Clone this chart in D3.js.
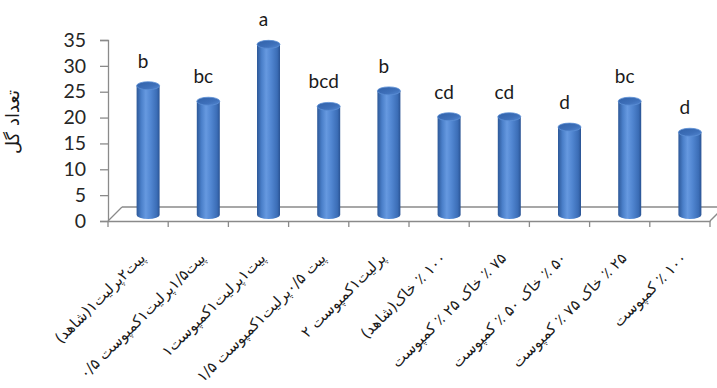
<!DOCTYPE html>
<html>
<head>
<meta charset="utf-8">
<script src="https://cdn.jsdelivr.net/npm/d3@7/dist/d3.min.js"></script>
<style>
  html, body { margin: 0; padding: 0; background: #fff; }
  svg { display: block; }
</style>
</head>
<body>
<svg id="chart" width="717" height="388"></svg>
<script>
// Treatments (category labels)
const categories = [
  "پیت۲پرلیت۱(شاهد)",
  "پیت۱/۵پرلیت۱کمپوست ۰/۵",
  "پیت۱پرلیت۱کمپوست۱",
  "پیت ۰/۵پرلیت۱کمپوست ۱/۵",
  "پرلیت۱کمپوست ۲",
  "۱۰۰ ٪ خاک(شاهد)",
  "۷۵ ٪ خاک ۲۵ ٪ کمپوست",
  "۵۰ ٪ خاک ۵۰ ٪ کمپوست",
  "۲۵ ٪ خاک ۷۵ ٪ کمپوست",
  "۱۰۰ ٪ کمپوست"
];
// Number of flowers per treatment
const flowerCounts = [25, 22, 33, 21, 24, 19, 19, 17, 22, 16];
// Mean-comparison letters
const groupLetters = ["b", "bc", "a", "bcd", "b", "cd", "cd", "d", "bc", "d"];
// Value axis ticks
const yTicks = [0, 5, 10, 15, 20, 25, 30, 35];
const yTitle = "تعداد گل";

const svg = d3.select("#chart");

// Plot geometry (front plane of the 3D box)
const x0 = 108, x1 = 710, yBase = 221, yTop = 40;
const depthX = 14, depthY = -14;      // offset to the back wall
const barDX = 10, barDY = -6;         // bars sit mid-depth
const barW = 23, capRy = 4;

const x = d3.scaleBand().domain(d3.range(categories.length)).range([x0, x1]).padding(0);
const y = d3.scaleLinear().domain([0, 35]).range([yBase, yTop]);

// Gradients for the cylinders
const defs = svg.append("defs");
const body = defs.append("linearGradient").attr("id", "cylBody")
  .attr("x1", "0%").attr("x2", "100%").attr("y1", "0%").attr("y2", "0%");
[["0%", "#2d5898"], ["20%", "#4a7fc9"], ["40%", "#6699e0"], ["62%", "#5186d1"], ["88%", "#3b6db6"], ["100%", "#2a5393"]]
  .forEach(([o, c]) => body.append("stop").attr("offset", o).attr("stop-color", c));
const cap = defs.append("linearGradient").attr("id", "cylCap")
  .attr("x1", "0%").attr("x2", "100%").attr("y1", "0%").attr("y2", "100%");
[["0%", "#3161a8"], ["60%", "#3e70ba"], ["100%", "#5387d2"]]
  .forEach(([o, c]) => cap.append("stop").attr("offset", o).attr("stop-color", c));

const gridColor = "#8a8a8a";

// Floor of the 3D box
const floor = svg.append("g").attr("stroke", gridColor).attr("stroke-width", 1.3).attr("fill", "none");
floor.append("line").attr("x1", x0).attr("y1", yBase).attr("x2", x0 + depthX).attr("y2", yBase + depthY);
floor.append("line").attr("x1", x0 + depthX).attr("y1", yBase + depthY).attr("x2", 717).attr("y2", yBase + depthY);
floor.append("line").attr("x1", x1).attr("y1", yBase).attr("x2", x1 + depthX).attr("y2", yBase + depthY);

// Value axis
const yAxis = d3.axisLeft(y).tickValues(yTicks).tickSize(8).tickPadding(14).tickFormat(d3.format("d"));
const gy = svg.append("g").attr("transform", `translate(${x0},0)`).call(yAxis);
gy.select(".domain").attr("stroke", gridColor).attr("stroke-width", 1.3);
gy.selectAll(".tick line").attr("stroke", gridColor).attr("stroke-width", 1.3);
gy.selectAll(".tick text")
  .attr("font-family", "Lato, 'Open Sans', sans-serif")
  .attr("font-size", 19.5).attr("fill", "#262626");

// Category axis (front edge)
const xAxis = d3.axisBottom(x).tickSize(0).tickFormat("");
const gx = svg.append("g").attr("transform", `translate(0,${yBase})`).call(xAxis);
gx.select(".domain").attr("stroke", gridColor).attr("stroke-width", 1.3);
gx.selectAll(".bnd").data(d3.range(categories.length + 1)).enter().append("line")
  .attr("x1", i => x0 + i * x.bandwidth()).attr("x2", i => x0 + i * x.bandwidth())
  .attr("y1", 0).attr("y2", 6).attr("stroke", gridColor).attr("stroke-width", 1.3);

// Rotated Persian category labels
svg.append("g").selectAll("text").data(categories).enter().append("text")
  .attr("transform", (d, i) => `translate(${x(i) + x.bandwidth() / 2 + 8},${yBase + 38}) rotate(-45)`)
  .attr("direction", "rtl")
  .attr("text-anchor", "start")
  .attr("font-family", "'DejaVu Sans', sans-serif")
  .attr("font-size", 15)
  .attr("fill", "#1a1a1a")
  .text(d => d);

// Y axis title
svg.append("text")
  .attr("transform", `translate(19,122) rotate(-90)`)
  .attr("direction", "rtl")
  .attr("text-anchor", "middle")
  .attr("font-family", "'DejaVu Sans', sans-serif")
  .attr("font-size", 18)
  .attr("fill", "#1a1a1a")
  .text(yTitle);

// Cylinders
const bars = svg.append("g").selectAll("g").data(flowerCounts).enter().append("g");
bars.append("path")
  .attr("fill", "url(#cylBody)")
  .attr("d", (v, i) => {
    const cx = x(i) + x.bandwidth() / 2 + barDX;
    const l = cx - barW / 2, r = cx + barW / 2;
    const top = y(v) + barDY, bot = y(0) + barDY;
    return `M${l},${top} L${l},${bot} A${barW / 2},${capRy} 0 0 0 ${r},${bot} L${r},${top} Z`;
  });
bars.append("ellipse")
  .attr("cx", (v, i) => x(i) + x.bandwidth() / 2 + barDX)
  .attr("cy", v => y(v) + barDY)
  .attr("rx", barW / 2).attr("ry", capRy)
  .attr("fill", "url(#cylCap)")
  .attr("stroke", "#5c8fd6").attr("stroke-width", 0.8);

// Letters above the bars
svg.append("g").selectAll("text").data(flowerCounts).enter().append("text")
  .attr("x", (v, i) => x(i) + x.bandwidth() / 2 + barDX - 5)
  .attr("y", v => y(v) + barDY - 18)
  .attr("text-anchor", "middle")
  .attr("font-family", "Lato, 'Open Sans', sans-serif")
  .attr("font-size", 19)
  .attr("fill", "#1a1a1a")
  .text((v, i) => groupLetters[i]);
</script>
</body>
</html>
